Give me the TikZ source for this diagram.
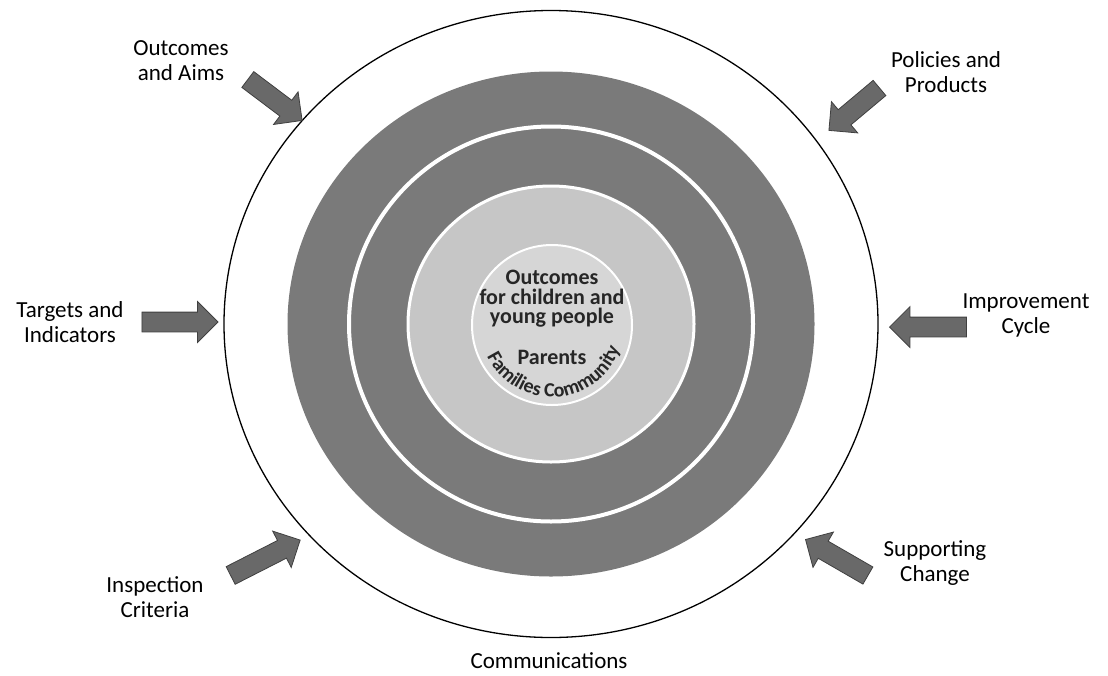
\documentclass[tikz,border=0pt]{standalone}
\usepackage{fontspec}
\setmainfont{Carlito}
\usetikzlibrary{shapes.arrows, decorations.text}
\definecolor{ringdark}{RGB}{122,122,122}
\definecolor{ringlight}{RGB}{198,198,198}
\definecolor{corefill}{RGB}{214,214,214}
\definecolor{arrowfill}{RGB}{105,105,105}
\tikzset{
  lbl/.style={align=center, font=\fontsize{23}{25}\selectfont},
  corelbl/.style={align=center, font=\bfseries\fontsize{22}{19.5}\selectfont, text=black!85},
  blockarrow/.style={single arrow, fill=arrowfill, draw=black!75, line width=0.8pt,
    inner sep=9.5pt, single arrow head extend=10.5pt, minimum width=0pt},
}

\begin{document}
\begin{tikzpicture}[x=1pt, y=-1pt]
  \useasboundingbox (0,0) rectangle (1108,675);
  \coordinate (c) at (551,324);
  \coordinate (core) at (552,325);

  % Rings
  \draw[line width=1.3pt] (c) ellipse [x radius=327pt, y radius=313.5pt];
  \fill[ringdark] (c) ellipse [x radius=263.5pt, y radius=252.5pt];
  \draw[white, line width=4pt] (c) ellipse [x radius=202pt, y radius=197.5pt];
  \filldraw[fill=ringlight, draw=white, line width=3pt] (c) ellipse [x radius=143pt, y radius=138pt];
  \filldraw[fill=corefill, draw=white, line width=2pt] (core) circle [radius=80pt];

  % Centre text
  \node[corelbl] (outcomes) at (552,299) {Outcomes\\for children and\\young people};
  \node[corelbl, inner sep=1pt] (parents) at (552,357) {Parents};
  \path[decorate, decoration={text along path, text align=center,
      text={|\bfseries\fontsize{20}{20}\selectfont\color{black!85}|Families Community}}]
    (core) ++(200:72pt) arc[start angle=200, end angle=346, radius=72pt];

  % Labels
  \node[lbl] (aims) at (181,61) {Outcomes\\and Aims};
  \node[lbl] (policies) at (946,72) {Policies and\\Products};
  \node[lbl] (targets) at (70,322) {Targets and\\Indicators};
  \node[lbl] (improve) at (1026,315) {Improvement\\Cycle};
  \node[lbl] (inspect) at (155,597) {Inspection\\Criteria};
  \node[lbl] (support) at (935,563) {Supporting\\Change};
  \node[lbl] (comms) at (549,661) {Communications};

  % Arrows
  \node[blockarrow, minimum height=68pt, rotate=-37] (aimsArr) at (271,97) {};
  \node[blockarrow, minimum height=66pt, rotate=220] (policiesArr) at (858,106) {};
  \node[blockarrow, minimum height=76pt] (targetsArr) at (175,322) {};
  \node[blockarrow, minimum height=77pt, rotate=180] (improveArr) at (933,327) {};
  \node[blockarrow, minimum height=78pt, rotate=27] (inspectArr) at (261,560) {};
  \node[blockarrow, minimum height=72pt, rotate=150] (supportArr) at (841,560) {};
\end{tikzpicture}
\end{document}
